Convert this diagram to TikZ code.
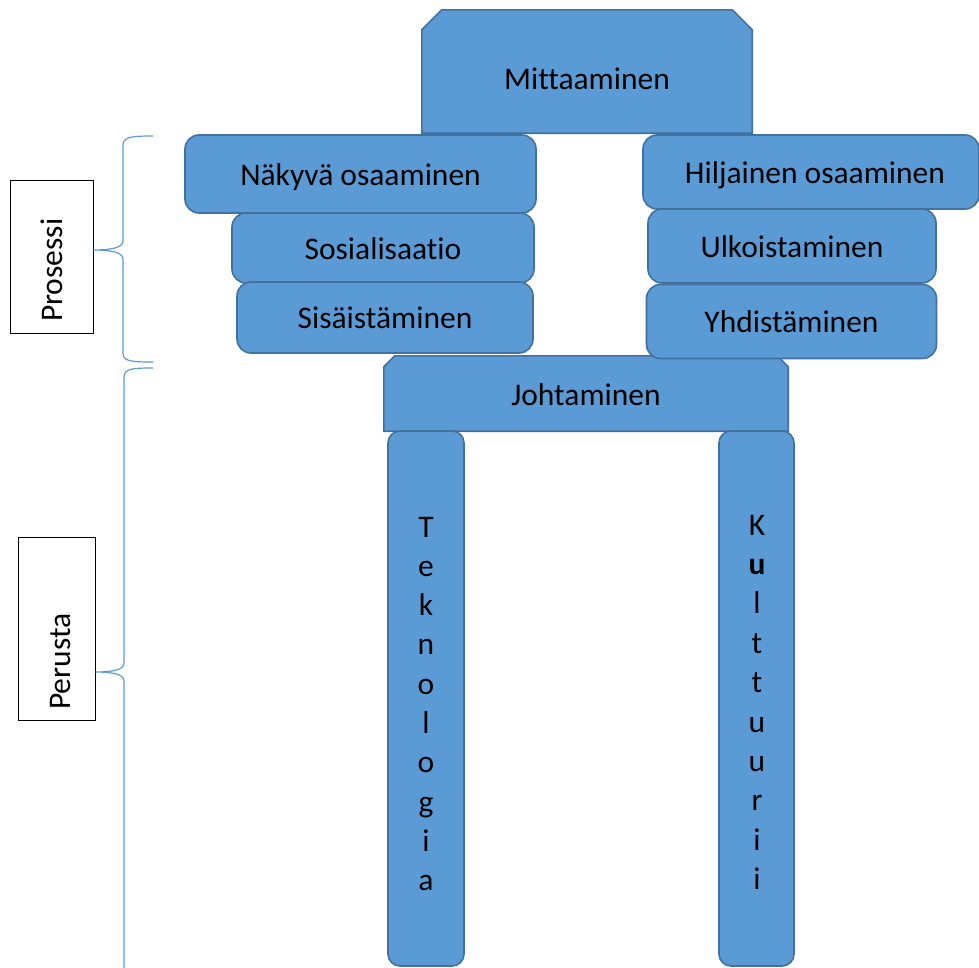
\documentclass[tikz,border=0pt]{standalone}
\usepackage{fontspec}
\setmainfont[Ligatures={NoCommon}]{Carlito}
\usetikzlibrary{calc}
\definecolor{boxfill}{HTML}{5B9BD5}
\definecolor{boxline}{HTML}{41719C}
\definecolor{bracecol}{HTML}{5B9BD5}

\begin{document}
\begin{tikzpicture}[x=1pt,y=-1pt,
  txt/.style={font=\fontsize{31.5}{38}\selectfont, inner sep=0pt, text=black},
  block/.style={draw=boxline, fill=boxfill, line width=1.6pt, rounded corners=14pt,
    inner sep=0pt, txt, text height=22pt, text depth=0pt},
  pillar/.style={draw=boxline, fill=boxfill, line width=1.6pt, rounded corners=12pt, inner sep=0pt},
  capfill/.style={draw=boxline, fill=boxfill, line width=1.6pt, line join=miter},
  sidebox/.style={draw=black, line width=0.9pt, fill=white, inner sep=0pt},
  bracket/.style={draw=bracecol, line width=1.2pt},
]
\useasboundingbox (0,0) rectangle (979,967);

% top cap: a rectangle with its two upper corners cut off
\node[inner sep=0pt, minimum width=330pt, minimum height=123pt] (mitt) at (587,71.5) {};
\draw[capfill] (mitt.south west) -- ($(mitt.north west)+(0,20)$) -- ($(mitt.north west)+(20,0)$)
  -- ($(mitt.north east)+(-20,0)$) -- ($(mitt.north east)+(0,20)$) -- (mitt.south east) -- cycle;
\node[txt, anchor=base] (mitt-t) at (587,89) {Mittaaminen};

% left stack
\node[block, minimum width=351pt, minimum height=78pt] (nakyva) at (360.5,174) {Näkyvä osaaminen};
\node[block, minimum width=302pt, minimum height=70pt] (sosial) at (383,248) {Sosialisaatio};
\node[block, minimum width=296pt, minimum height=71pt] (sisais) at (385,317.5) {Sisäistäminen};

% right stack
\node[block, minimum width=336pt, minimum height=74pt] (hiljainen) at (811,172) {\hspace*{8pt}Hiljainen osaaminen};
\node[block, minimum width=288pt, minimum height=74pt] (ulkois) at (792,246) {Ulkoistaminen};

% beam
\node[inner sep=0pt, minimum width=404pt, minimum height=75pt] (johto) at (586,393.5) {};
\draw[capfill] (johto.south west) -- ($(johto.north west)+(0,11)$) -- ($(johto.north west)+(11,0)$)
  -- ($(johto.north east)+(-11,0)$) -- ($(johto.north east)+(0,11)$) -- (johto.south east) -- cycle;
\node[txt, anchor=base] (johto-t) at (586,405) {Johtaminen};

\node[block, minimum width=290pt, minimum height=74pt] (yhdis) at (791.5,321.5) {Yhdistäminen};

% pillars
\node[pillar, minimum width=76pt, minimum height=535pt] (tekno) at (426,698.5) {};
\node[pillar, minimum width=75pt, minimum height=535pt] (kult) at (756.5,698.5) {};

\foreach \ch [count=\i from 0] in {T,e,k,n,o,l,o,g,i,a}
  \node[txt, anchor=base] (tek-\i) at (426,537+39.3*\i) {\ch};
\foreach \ch [count=\i from 0] in {K,\textbf{u},l,t,t,u,u,r,i,i}
  \node[txt, anchor=base] (kul-\i) at (757,535+39.4*\i) {\ch};

% side labels
\node[sidebox, minimum width=83pt, minimum height=153pt] (prosessi) at (51.5,256.5) {};
\node[txt, rotate=90, anchor=base west] (prosessi-t) at (62,322) {Prosessi};
\node[sidebox, minimum width=77pt, minimum height=183pt] (perusta) at (56.5,628.5) {};
\node[txt, rotate=90, anchor=base west] (perusta-t) at (70,710) {Perusta};

% braces
\coordinate (b1) at (prosessi.east |- 0,250);
\coordinate (b2) at (perusta.east |- 0,672);
\draw[bracket] (153,136) .. controls (130,136) and (123,137) .. (123,146)
  -- (123,241) .. controls (123,248) and (110,250) .. (b1)
  .. controls (110,250) and (123,252) .. (123,259)
  -- (123,353) .. controls (123,361) and (130,362) .. (153,362);
\draw[bracket] (153,368) .. controls (130,368) and (124,369) .. (124,378)
  -- (124,663) .. controls (124,670) and (112,672) .. (b2)
  .. controls (112,672) and (124,674) .. (124,681)
  -- (124,975);
\end{tikzpicture}
\end{document}
